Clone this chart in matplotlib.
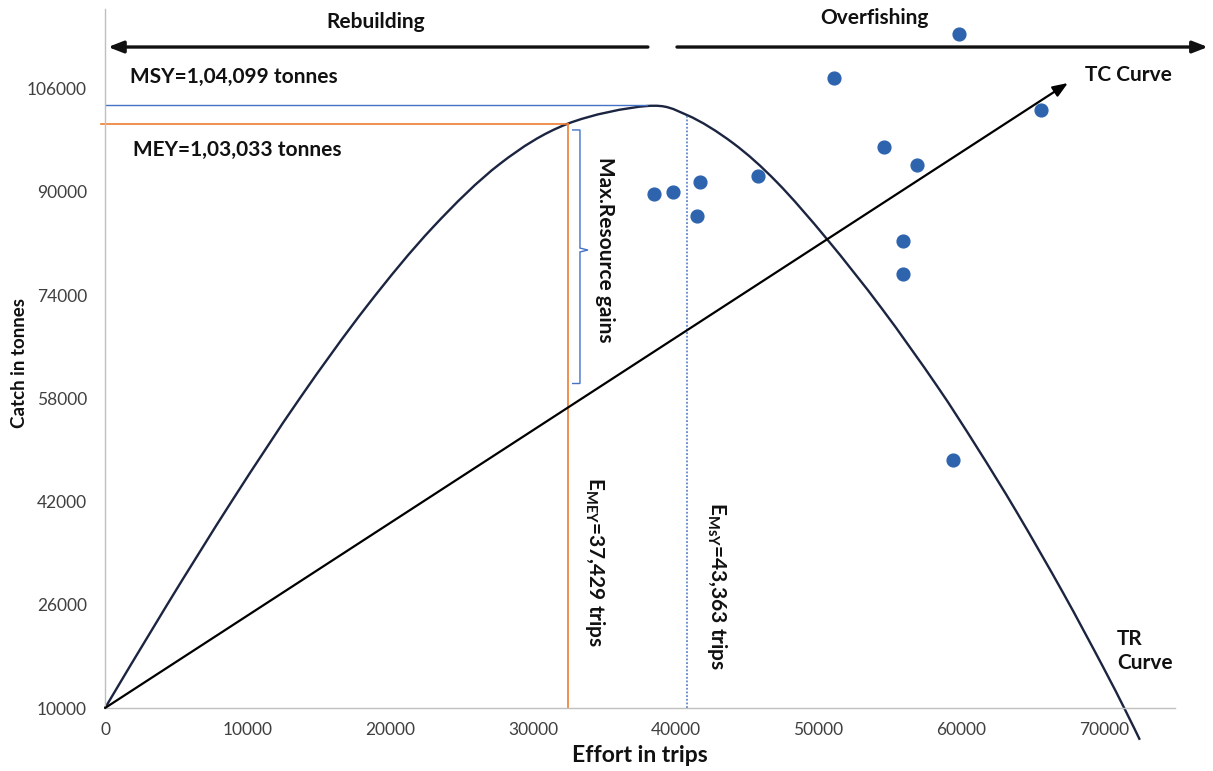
import matplotlib.pyplot as plt
from matplotlib.path import Path
from matplotlib.patches import PathPatch

plt.rcParams['font.family'] = ['Lato', 'DejaVu Sans']
plt.rcParams['mathtext.fontset'] = 'custom'
plt.rcParams['mathtext.rm'] = 'Lato'
plt.rcParams['mathtext.bf'] = 'Lato:bold'

# TR curve
tr_effort = [0, 4345, 8970, 13666, 18361, 22986, 27682, 32377, 37983, 40787, 44010,
             47094, 50598, 54450, 58307, 61110, 63913, 67137, 69940, 71482, 72533]
tr_catch = [10000, 25990, 42360, 58050, 72320, 84530, 94350, 100520, 103310, 101915,
            97575, 91500, 82695, 71910, 59950, 50420, 40330, 27920, 16430, 9800, 5070]

# TC line (start, arrow tip)
tc_effort = [0, 67490]
tc_catch = [10000, 106875]

# observed points
obs_effort = [51090, 54590, 56900, 38470, 39810, 41700, 41490, 45760, 55920, 55920,
              59430, 59850, 65590]
obs_catch = [107650, 96960, 94170, 89670, 89980, 91530, 86260, 92460, 82390, 77270,
             48440, 114470, 102690]

msy_catch = 103470
mey_catch = 100520
msy_peak_effort = 37980
mey_effort = 32450
msy_effort_line = 40790
msy_curve_at_line = 101920

xticks = [0, 10000, 20000, 30000, 40000, 50000, 60000, 70000]
yticks = [10000, 26000, 42000, 58000, 74000, 90000, 106000]


def smooth_path(xs, ys):
    # smoothed line like Excel: Catmull-Rom segments as cubic Beziers
    pts = list(zip(xs, ys))
    verts = [pts[0]]
    codes = [Path.MOVETO]
    n = len(pts)
    for i in range(n - 1):
        p0 = pts[max(i - 1, 0)]
        p1 = pts[i]
        p2 = pts[i + 1]
        p3 = pts[min(i + 2, n - 1)]
        c1 = (p1[0] + (p2[0] - p0[0]) / 6, p1[1] + (p2[1] - p0[1]) / 6)
        c2 = (p2[0] - (p3[0] - p1[0]) / 6, p2[1] - (p3[1] - p1[1]) / 6)
        verts += [c1, c2, p2]
        codes += [Path.CURVE4] * 3
    return Path(verts, codes)


fig = plt.figure(figsize=(12.13, 7.71), dpi=100)
ax = fig.add_axes([0.0866, 0.0817, 0.8821, 0.9066])
ax.set_xlim(0, 75000)
ax.set_ylim(10000, 118345)

for s in ['top', 'right']:
    ax.spines[s].set_visible(False)
for s in ['left', 'bottom']:
    ax.spines[s].set_color('#BFBFBF')
    ax.spines[s].set_linewidth(1.0)
ax.tick_params(length=0, labelsize=12.5, labelcolor='#404040')
ax.tick_params(axis='y', pad=13)
ax.tick_params(axis='x', pad=10)
ax.set_xticks(xticks)
ax.set_yticks(yticks)

# reference lines
ax.plot([0, msy_peak_effort], [msy_catch, msy_catch], color='#4472C4', lw=1.0)
ax.plot([-300, mey_effort], [mey_catch, mey_catch], color='#ED7D31', lw=1.2, clip_on=False)
ax.plot([mey_effort, mey_effort], [10000, mey_catch], color='#ED7D31', lw=1.2)
ax.plot([msy_effort_line, msy_effort_line], [10000, msy_curve_at_line], color='#4472C4',
        lw=1.1, ls=(0, (1.2, 1.2)))

# curves
ax.add_patch(PathPatch(smooth_path(tr_effort, tr_catch), fill=False, edgecolor='#1B2440',
                       lw=1.7, clip_on=False))
ax.annotate('', xy=(tc_effort[1], tc_catch[1]), xytext=(tc_effort[0], tc_catch[0]),
            arrowprops=dict(arrowstyle='-|>,head_length=0.9,head_width=0.35', color='black',
                            lw=1.6, shrinkA=0, shrinkB=0))

ax.scatter(obs_effort, obs_catch, s=85, color='#2E64AE', zorder=5, clip_on=False)

# bracket for resource gains
bx0, bx1, bx2 = 32730, 33290, 33850
by_top, by_mid, by_bot = 99600, 80990, 60300
brace = Path([(bx0, by_top), (bx1, by_top), (bx1, by_mid + 300), (bx2, by_mid),
              (bx1, by_mid - 300), (bx1, by_bot), (bx0, by_bot)])
ax.add_patch(PathPatch(brace, fill=False, edgecolor='#4472C4', lw=1.0))

# rebuilding / overfishing arrows
arr_y = 112455
ax.annotate('', xy=(210, arr_y), xytext=(38050, arr_y), annotation_clip=False,
            arrowprops=dict(arrowstyle='-|>,head_length=0.9,head_width=0.35', color='#111111',
                            lw=2.4, shrinkA=0, shrinkB=0))
ax.annotate('', xy=(77300, arr_y), xytext=(40090, arr_y), annotation_clip=False,
            arrowprops=dict(arrowstyle='-|>,head_length=0.9,head_width=0.35', color='#111111',
                            lw=2.4, shrinkA=0, shrinkB=0))

tk = dict(fontsize=15, fontweight='bold', color='#111111')
ax.text(18990, 116330, 'Rebuilding', ha='center', va='center', **tk)
ax.text(53960, 116950, 'Overfishing', ha='center', va='center', **tk)
ax.text(1750, 107800, 'MSY=1,04,099 tonnes', ha='left', va='center', **tk)
ax.text(1960, 96490, 'MEY=1,03,033 tonnes', ha='left', va='center', **tk)
ax.text(68680, 108115, 'TC Curve', ha='left', va='center', **tk)
ax.text(70920, 18835, 'TR\nCurve', ha='left', va='center', linespacing=1.3, **tk)
ax.text(35040, 80990, 'Max.Resource gains', rotation=-90, ha='center', va='center', **tk)
ax.text(34340, 32630, r'$\mathbf{E_{MEY}}$=37,429 trips', rotation=-90, ha='center',
        va='center', **tk)
ax.text(42890, 28910, r'$\mathbf{E_{MsY}}$=43,363 trips', rotation=-90, ha='center',
        va='center', **tk)

ax.set_xlabel('Effort in trips', fontsize=16.5, fontweight='bold', color='#111111', labelpad=5)
fig.text(20 / 1213, 1 - 363 / 771, 'Catch in tonnes', rotation=90, ha='center', va='center',
         fontsize=13.5, fontweight='bold', color='#111111')

fig.savefig('out.png', dpi=100)
